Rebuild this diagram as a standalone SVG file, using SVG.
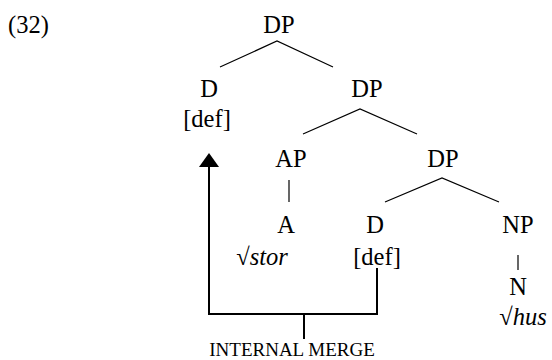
<svg xmlns="http://www.w3.org/2000/svg" width="552" height="360" viewBox="0 0 552 360">
<style>
text{font-family:"Liberation Serif","Times New Roman",serif;font-size:24.5px;fill:#000;text-anchor:middle}
.it{font-style:italic}
.sm{font-size:19px}
.edge{stroke:#000;stroke-width:1.2;fill:none}
.mv{stroke:#000;stroke-width:2;fill:none}
</style>
<text x="8" y="33" style="text-anchor:start">(32)</text>
<g id="n-dp1"><text x="279" y="33">DP</text></g>
<g id="n-d1"><text x="209" y="97">D</text><text x="207" y="127">[def]</text></g>
<g id="n-dp2"><text x="367" y="97">DP</text></g>
<g id="n-ap"><text x="291" y="167">AP</text></g>
<g id="n-dp3"><text x="443" y="167">DP</text></g>
<g id="n-a"><text x="286" y="233">A</text><text x="262" y="265">√<tspan class="it">stor</tspan></text></g>
<g id="n-d2"><text x="375" y="233">D</text><text x="377" y="265">[def]</text></g>
<g id="n-np"><text x="518" y="233">NP</text></g>
<g id="n-n"><text x="518" y="295">N</text><text x="523" y="325">√<tspan class="it">hus</tspan></text></g>
<g id="label"><text class="sm" x="292" y="356">INTERNAL MERGE</text></g>
<g id="connectors">
<path class="edge" d="M220,67 L277,41 L333,67"/>
<path class="edge" d="M303,134 L360,109 L417,134"/>
<path class="edge" d="M289,180 V202"/>
<path class="edge" d="M385,202 L442,178 L499,202"/>
<path class="edge" d="M518,255 V270"/>
<path class="mv" d="M377,268 V314 H209 V167"/>
<path d="M199,167 L209,153 L219,167 Z" fill="#000"/>
<path class="mv" d="M304,314 V339"/>
</g>
</svg>
